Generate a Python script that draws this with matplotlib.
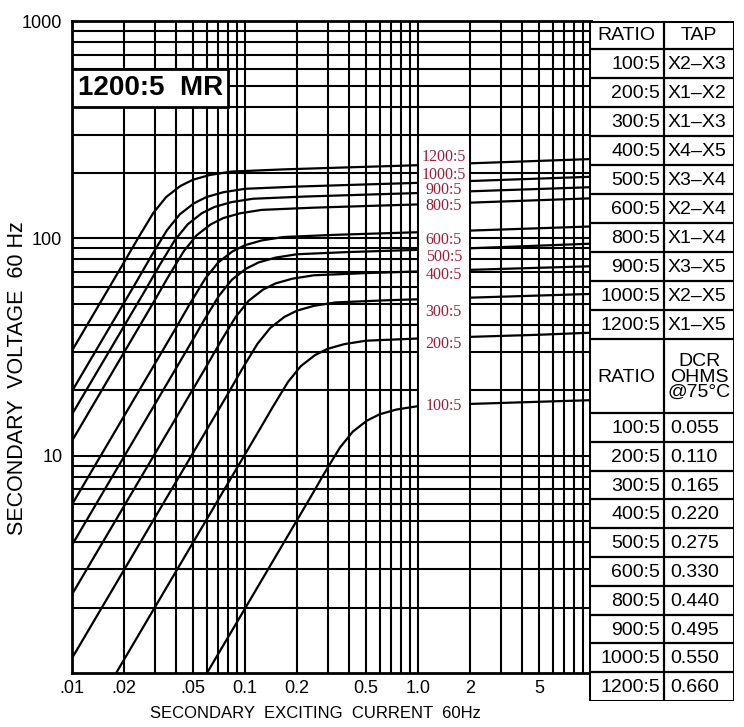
import numpy as np
import matplotlib
matplotlib.use('Agg')
from matplotlib import pyplot as plt
from matplotlib.ticker import LogLocator, NullFormatter
from matplotlib.patches import Rectangle

# excitation curves: current (A) and voltage (V) per ratio
cur_100 = [0.0603, 0.1, 0.2376, 0.29, 0.354, 0.42, 0.507, 0.6, 0.75, 1.0, 2.0, 5.0, 10]
volt_100 = [1.0, 1.98, 6.38, 8.4, 10.9, 12.9, 14.5, 15.5, 16.3, 16.9, 17.3, 17.7, 18.0]
cur_200 = [0.018, 0.1188, 0.145, 0.177, 0.21, 0.2535, 0.3, 0.375, 0.5, 1.0, 2.5, 5.0, 10]
volt_200 = [1.0, 12.8, 16.8, 21.8, 25.8, 29.0, 31.0, 32.6, 33.8, 34.6, 35.4, 36.0, 36.8]
cur_300 = [0.01, 0.0792, 0.0967, 0.118, 0.14, 0.169, 0.2, 0.25, 0.333, 0.667, 1.667, 3.333, 10]
volt_300 = [1.17, 19.1, 25.2, 32.7, 38.7, 43.5, 46.5, 48.9, 50.7, 51.9, 53.1, 54.0, 55.5]
cur_400 = [0.01, 0.0594, 0.0725, 0.0885, 0.105, 0.1268, 0.15, 0.1875, 0.25, 0.5, 1.25, 2.5, 10]
volt_400 = [2.30, 25.5, 33.6, 43.6, 51.6, 58.0, 62.0, 65.2, 67.6, 69.2, 70.8, 72.0, 74.4]
cur_500 = [0.01, 0.0475, 0.058, 0.0708, 0.084, 0.1014, 0.12, 0.15, 0.2, 0.4, 1.0, 2.0, 10]
volt_500 = [3.88, 31.9, 42.0, 54.5, 64.5, 72.5, 77.5, 81.5, 84.5, 86.5, 88.5, 90.0, 94.5]
cur_600 = [0.01, 0.0396, 0.0483, 0.059, 0.07, 0.0845, 0.1, 0.125, 0.1667, 0.333, 0.833, 1.667, 10]
volt_600 = [5.96, 38.3, 50.4, 65.4, 77.4, 87.0, 93.0, 97.8, 101.4, 103.8, 106.2, 108.0, 113.4]
cur_800 = [0.01, 0.0297, 0.03625, 0.04425, 0.0525, 0.0634, 0.075, 0.09375, 0.125, 0.25, 0.625, 1.25, 10]
volt_800 = [11.7, 51.0, 67.2, 87.2, 103.2, 116.0, 124.0, 130.4, 135.2, 138.4, 141.6, 144.0, 152.8]
cur_900 = [0.01, 0.0264, 0.0322, 0.0393, 0.0467, 0.0563, 0.0667, 0.0833, 0.111, 0.222, 0.556, 1.111, 10]
volt_900 = [15.5, 57.4, 75.6, 98.1, 116.1, 130.5, 139.5, 146.7, 152.1, 155.7, 159.3, 162.0, 171.9]
cur_1000 = [0.01, 0.02376, 0.029, 0.0354, 0.042, 0.0507, 0.06, 0.075, 0.1, 0.2, 0.5, 1.0, 10]
volt_1000 = [19.8, 63.8, 84.0, 109.0, 129.0, 145.0, 155.0, 163.0, 169.0, 173.0, 177.0, 180.0, 192.0]
cur_1200 = [0.01, 0.0198, 0.0242, 0.0295, 0.035, 0.04225, 0.05, 0.0625, 0.0833, 0.1667, 0.4167, 0.833, 10]
volt_1200 = [30.4, 76.6, 100.8, 130.8, 154.8, 174.0, 186.0, 195.6, 202.8, 207.6, 212.4, 216.0, 231.6]

ratios = ['100:5', '200:5', '300:5', '400:5', '500:5', '600:5', '800:5', '900:5', '1000:5', '1200:5']
taps = ['X2–X3', 'X1–X2', 'X1–X3', 'X4–X5', 'X3–X4', 'X2–X4', 'X1–X4', 'X3–X5', 'X2–X5', 'X1–X5']
dcr = ['0.055', '0.110', '0.165', '0.220', '0.275', '0.330', '0.440', '0.495', '0.550', '0.660']
label_volt = [17.3, 33.2, 46.7, 69, 83.5, 100, 144, 170, 199, 242]   # where the red tags sit

x_ticks = [0.01, 0.02, 0.05, 0.1, 0.2, 0.5, 1.0, 2, 5]
x_tick_labels = ['.01', '.02', '.05', '0.1', '0.2', '0.5', '1.0', '2', '5']
y_ticks = [10, 100, 1000]
y_tick_labels = ['10', '100', '1000']

curves = [(cur_100, volt_100), (cur_200, volt_200), (cur_300, volt_300), (cur_400, volt_400),
          (cur_500, volt_500), (cur_600, volt_600), (cur_800, volt_800), (cur_900, volt_900),
          (cur_1000, volt_1000), (cur_1200, volt_1200)]

plt.rcParams['font.family'] = 'Liberation Sans'

W, H = 744, 727
fig = plt.figure(figsize=(W / 100, H / 100), dpi=100)
ax = fig.add_axes([72 / W, 1 - 673 / H, 519 / W, 652 / H])
ax.set_xscale('log')
ax.set_yscale('log')
ax.set_xlim(0.01, 10)
ax.set_ylim(1, 1000)

ax.xaxis.set_minor_locator(LogLocator(base=10, subs=np.arange(2, 10)))
ax.yaxis.set_minor_locator(LogLocator(base=10, subs=np.arange(2, 10)))
ax.xaxis.set_minor_formatter(NullFormatter())
ax.yaxis.set_minor_formatter(NullFormatter())
ax.set_xticks(x_ticks)
ax.set_xticklabels(x_tick_labels)
ax.set_yticks(y_ticks)
ax.set_yticklabels(y_tick_labels)
ax.tick_params(which='both', length=0, labelsize=13)
ax.tick_params(axis='x', pad=5)
ax.tick_params(axis='y', pad=7)
ax.set_axisbelow(True)
ax.grid(True, which='both', color='black', lw=1.5)
for s in ax.spines.values():
    s.set_linewidth(2)

for c, v in curves:
    ax.plot(c, v, color='black', lw=1.6, zorder=2)

# blank band that carries the ratio tags
ax.add_patch(Rectangle((1.0 * 1.015, 10.5), 2.0 / 1.015 - 1.0 * 1.015, 275 - 10.5,
                       facecolor='white', edgecolor='none', zorder=3))
for r, yv in zip(ratios, label_volt):
    ax.text(1.41, yv, r, ha='center', va='center_baseline', fontsize=11.5, color='#9a1f3a',
            family='Liberation Serif', zorder=4)

# title box
ax.add_patch(Rectangle((0.01, 400), 0.07, 200, facecolor='white', edgecolor='black',
                       lw=2, zorder=3))
ax.text(np.sqrt(0.01 * 0.08), np.sqrt(400 * 600), '1200:5  MR', ha='center', va='center',
        fontsize=20, fontweight='bold', zorder=4)

fig.text(315 / W, 1 - 713 / H, 'SECONDARY  EXCITING  CURRENT  60Hz', ha='center',
         va='center', fontsize=12)
fig.text(18 / W, 1 - 378 / H, 'SECONDARY  VOLTAGE  60 Hz', ha='center', va='center',
         rotation=90, fontsize=15.5)

# table on the right
tax = fig.add_axes([589 / W, 1 - 701 / H, 145 / W, 680 / H])
tax.set_xlim(0, 145)
tax.set_ylim(680, 0)
tax.axis('off')
tax.add_patch(Rectangle((0, 0), 145, 680, facecolor='white', edgecolor='black', lw=2.2))
tax.plot([75, 75], [0, 680], color='black', lw=1.6)
top_edges = [0, 28] + [28 + 29 * k for k in range(1, 11)]
bot_edges = [392 + 28.8 * k for k in range(0, 11)]
for yy in top_edges[1:] + bot_edges[:-1]:
    tax.plot([0, 145], [yy, yy], color='black', lw=1.6)

fs = 14
tax.text(37.5, 14.5, 'RATIO', ha='center', va='center', fontsize=fs)
tax.text(110, 14.5, 'TAP', ha='center', va='center', fontsize=fs)
for i in range(len(ratios)):
    yc = 28 + 29 * i + 15.5
    tax.text(71, yc, ratios[i], ha='right', va='center', fontsize=fs)
    tax.text(79, yc, taps[i], ha='left', va='center', fontsize=fs)
tax.text(37.5, 356, 'RATIO', ha='center', va='center', fontsize=fs)
tax.text(110, 356, 'DCR\nOHMS\n@75°C', ha='center', va='center', fontsize=fs,
         linespacing=0.85)
for i in range(len(ratios)):
    yc = 392 + 28.8 * i + 15.5
    tax.text(71, yc, ratios[i], ha='right', va='center', fontsize=fs)
    tax.text(81, yc, dcr[i], ha='left', va='center', fontsize=fs)

fig.savefig('out.png', dpi=100, facecolor='white')
